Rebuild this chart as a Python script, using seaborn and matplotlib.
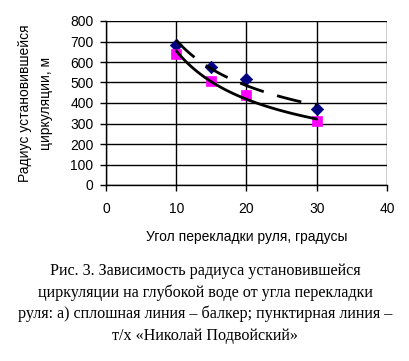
import numpy as np
import pandas as pd
import matplotlib
matplotlib.use("Agg")
import matplotlib.pyplot as plt
import seaborn as sns

# Data
angles = [10, 15, 20, 30]
radius_ship = [683, 577, 515, 372]    # т/х «Николай Подвойский» (dashed trend, diamonds)
radius_bulker = [640, 509, 437, 312]  # балкер (solid trend, squares)
x_ticks = [0, 10, 20, 30, 40]
y_ticks = [0, 100, 200, 300, 400, 500, 600, 700, 800]

sns.set_theme(style="white")
plt.rcParams['font.family'] = ['Liberation Sans', 'DejaVu Sans']

fig = plt.figure(figsize=(4.10, 3.61), dpi=100)
ax = fig.add_axes([106/410, 1-185/361, (387-106)/410, (185-21)/361])

def power_fit(x, y):
    b, a = np.polyfit(np.log(x), np.log(y), 1)
    xs = np.linspace(min(x), max(x), 60)
    return xs, np.exp(a) * xs ** b

df = pd.DataFrame({"angle": angles, "ship": radius_ship, "bulker": radius_bulker})

sns.scatterplot(data=df, x="angle", y="ship", marker="D", color="#000080", s=40,
                edgecolor="#000080", linewidth=0.5, ax=ax, zorder=3)
sns.scatterplot(data=df, x="angle", y="bulker", marker="s", color="#FF00FF", s=55,
                edgecolor="#FF00FF", linewidth=0.5, ax=ax, zorder=3)

xs, ys = power_fit(angles, radius_bulker)
sns.lineplot(x=xs, y=ys, color="black", lw=2, ax=ax, zorder=4)
xs2, ys2 = power_fit(angles, radius_ship)
sns.lineplot(x=xs2, y=ys2, color="black", lw=2, ax=ax, zorder=4)
ax.lines[-1].set_dashes([9, 5])

ax.set_xlim(0, 40)
ax.set_ylim(0, 800)
ax.set_xticks(x_ticks)
ax.set_yticks(y_ticks)
ax.grid(True, color="black", lw=1)
ax.set_axisbelow(True)
for s in ["top", "right"]:
    ax.spines[s].set_visible(False)
for s in ["left", "bottom"]:
    ax.spines[s].set_color("black")
    ax.spines[s].set_linewidth(1)
ax.tick_params(axis="both", direction="out", length=4, width=1, color="black",
               labelsize=10, labelcolor="black", bottom=True, left=True, pad=5)
ax.tick_params(axis="x", pad=8)
ax.set_xlabel("Угол перекладки руля, градусы", fontsize=10, color="black", labelpad=10)
ax.set_ylabel("Радиус установившейся\nциркуляции, м", fontsize=10, color="black",
              labelpad=12, linespacing=1.65)

fig.text(0.5, 1 - 263/361,
         "Рис. 3. Зависимость радиуса установившейся\n"
         "циркуляции на глубокой воде от угла перекладки\n"
         "руля: а) сплошная линия – балкер; пунктирная линия –\n"
         "т/х «Николай Подвойский»",
         ha="center", va="top", fontsize=11.6, family=['Liberation Serif', 'DejaVu Serif'],
         linespacing=1.42, color="black")

fig.savefig("out.png", dpi=100, facecolor="white")
